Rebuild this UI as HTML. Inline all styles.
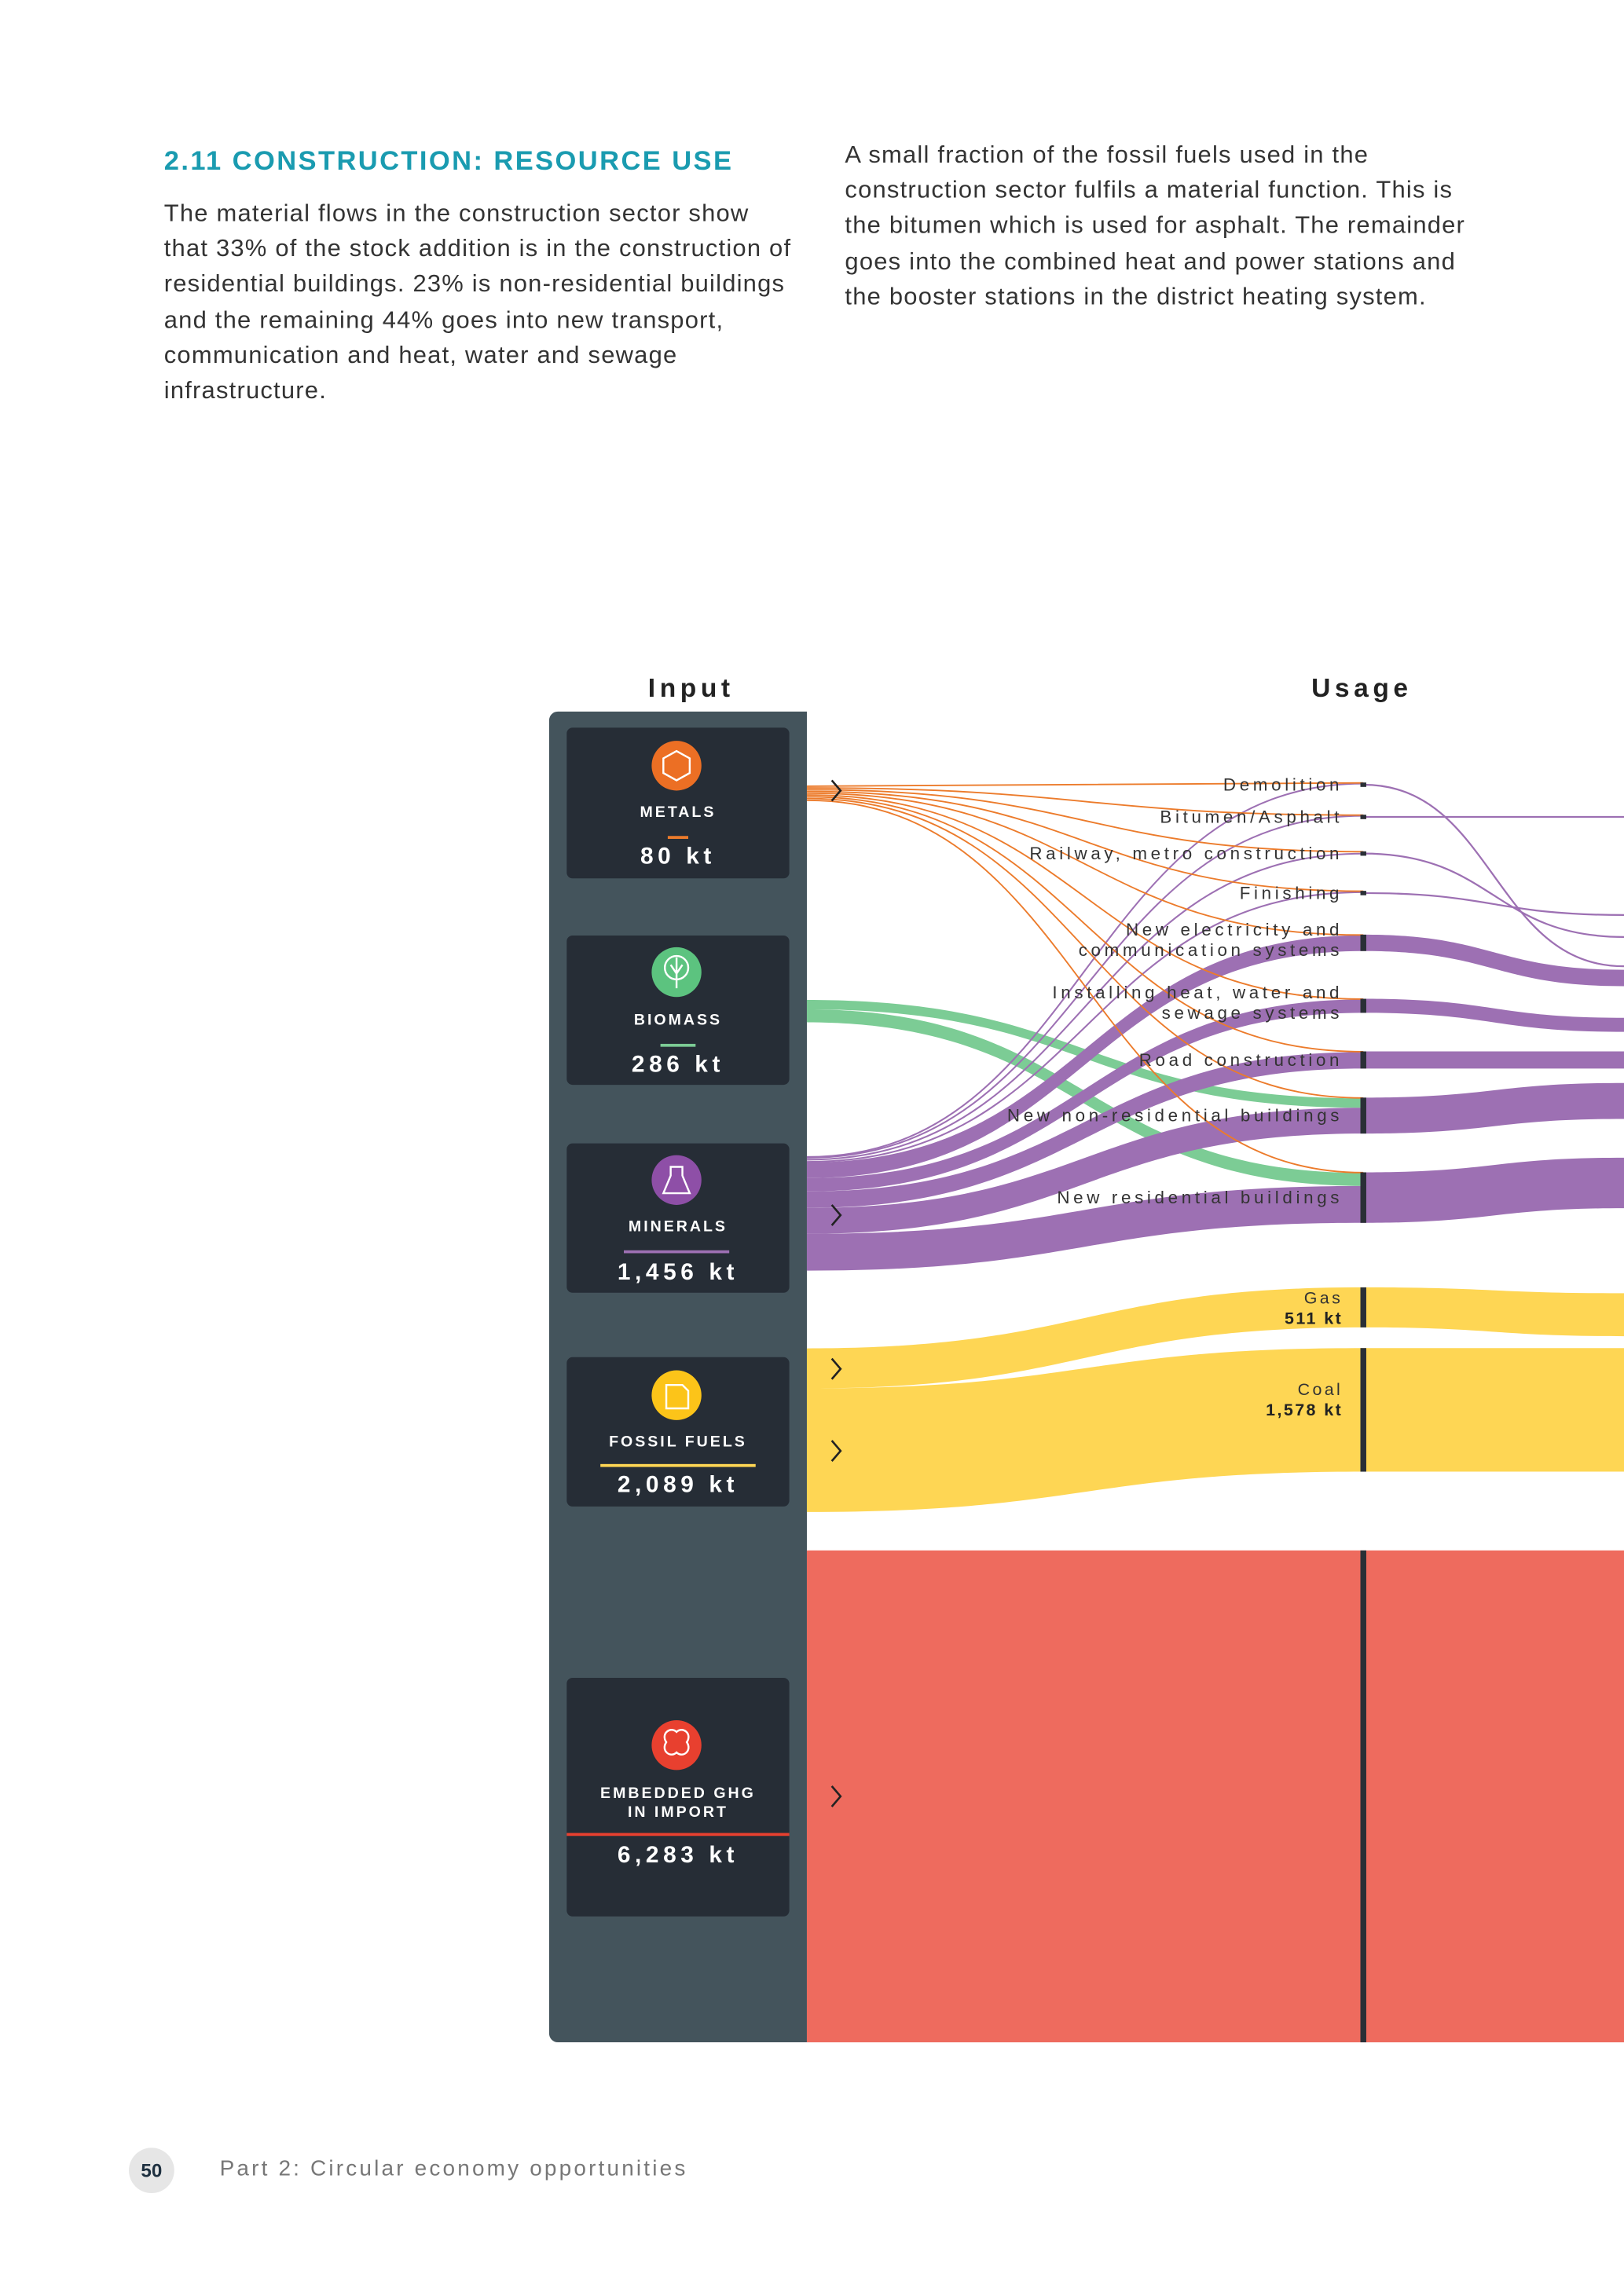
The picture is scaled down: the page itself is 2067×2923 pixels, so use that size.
<!DOCTYPE html>
<html><head><meta charset="utf-8">
<style>
html,body{margin:0;padding:0;background:#fff;}
body{width:2067px;height:2923px;overflow:hidden;position:relative;}
#wrap{position:absolute;left:0;top:0;width:1109px;height:1568px;transform:scale(1.86384);transform-origin:0 0;font-family:"Liberation Sans",sans-serif;}
.h{position:absolute;left:112px;top:99px;font-size:18.5px;font-weight:bold;color:#1a9bb0;letter-spacing:1.3px;white-space:nowrap;}
.p{position:absolute;font-size:16.6px;line-height:24.2px;color:#333;white-space:nowrap;letter-spacing:0.65px;}
.card{position:absolute;left:387px;width:152px;background:#262d36;border-radius:4px;}
.lab{position:absolute;left:0;width:152px;text-align:center;color:#fff;font-size:10.5px;font-weight:bold;letter-spacing:1.6px;}
.val{position:absolute;left:0;width:152px;text-align:center;color:#fff;font-size:16px;font-weight:bold;letter-spacing:3px;}
.ln{position:absolute;height:2px;}
</style></head><body>
<div id="wrap">
<div class="h">2.11 CONSTRUCTION: RESOURCE USE</div>
<div class="p" style="left:112px;top:134px">The material flows in the construction sector show<br>that 33% of the stock addition is in the construction of<br>residential buildings. 23% is non-residential buildings<br>and the remaining 44% goes into new transport,<br>communication and heat, water and sewage<br>infrastructure.</div>
<div class="p" style="left:577px;top:94px">A small fraction of the fossil fuels used in the<br>construction sector fulfils a material function. This is<br>the bitumen which is used for asphalt. The remainder<br>goes into the combined heat and power stations and<br>the booster stations in the district heating system.</div>

<div style="position:absolute;left:375px;top:486px;width:176px;height:909px;background:#44545c;border-radius:6px 0 0 6px;"></div>

<div class="card" style="top:497px;height:103px">
<div class="lab" style="top:52px">METALS</div><div class="ln" style="left:69px;width:14px;top:74px;background:#ec7b2b"></div><div class="val" style="top:80px">80 kt</div></div>
<div class="card" style="top:639px;height:102px">
<div class="lab" style="top:52px">BIOMASS</div><div class="ln" style="left:64px;width:24px;top:74px;background:#7ccc95"></div><div class="val" style="top:80px">286 kt</div></div>
<div class="card" style="top:781px;height:102px">
<div class="lab" style="top:51px">MINERALS</div><div class="ln" style="left:39px;width:72px;top:73px;background:#9d70b3"></div><div class="val" style="top:80px">1,456 kt</div></div>
<div class="card" style="top:927px;height:102px">
<div class="lab" style="top:52px">FOSSIL FUELS</div><div class="ln" style="left:23px;width:106px;top:73px;background:#fed654"></div><div class="val" style="top:79px">2,089 kt</div></div>
<div class="card" style="top:1146px;height:163px">
<div class="lab" style="top:73px;line-height:12.5px">EMBEDDED GHG<br>IN IMPORT</div><div class="ln" style="left:0;width:152px;top:106px;background:#e8402f"></div><div class="val" style="top:113px">6,283 kt</div></div>

<div style="position:absolute;left:88px;top:1467px;width:31px;height:31px;border-radius:50%;background:#e6e6e6;text-align:center;line-height:31px;font-size:13px;font-weight:bold;color:#1e3040">50</div>
<div style="position:absolute;left:150px;top:1473px;font-size:15px;letter-spacing:1.7px;color:#777;white-space:nowrap">Part 2: Circular economy opportunities</div>

<svg id="chart" width="1109" height="1568" style="position:absolute;left:0;top:0"></svg>
</div>
<script>
const usageNodes=["Demolition","Bitumen/Asphalt","Railway, metro construction","Finishing","New electricity and|communication systems","Installing heat, water and|sewage systems","Road construction","New non-residential buildings","New residential buildings"];
const metalsFlows=[9,9,9,9,9,9,9,9,8];
const biomassFlows=[0,0,0,0,0,0,0,120,166];
const mineralsFlows=[10,10,40,15,200,170,210,330,471];
const fuelNodes=["Gas","Coal"];
const fuelValues=[511,1578];
const fuelLabels=["511 kt","1,578 kt"];
const ghgValue=6283;
// layout (not data)
const K=0.0535, X0=551, XN=931, XR=1109;
const nodeCenters=[536,558,583,610,644,687,724,762,818];
const outY=[660,558,640,625,668,700,724,752,808];
const fuelCenters=[893,963];
const fuelLabelOffsets=[11,32];
const S=document.getElementById('chart');
const NS='http://www.w3.org/2000/svg';
function mk(t,a){const e=document.createElementNS(NS,t);for(const k in a)e.setAttribute(k,a[k]);S.appendChild(e);return e;}
function curve(x0,y0,x1,y1){const m=(x0+x1)/2;return `C${m},${y0} ${m},${y1} ${x1},${y1}`;}
function band(x0,t0,b0,x1,t1,b1,fill,op,name){
  const e=mk('path',{d:`M${x0},${t0}${curve(x0,t0,x1,t1)}L${x1},${b1}${curve(x1,b1,x0,b0)}Z`,fill:fill,'fill-opacity':op});
  
  
}
function line(x0,y0,x1,y1,c,w,name){
  const e=mk('path',{d:`M${x0},${y0}${curve(x0,y0,x1,y1)}`,stroke:c,'stroke-width':w,fill:'none'});
  
  
}
const totals=usageNodes.map((n,i)=>metalsFlows[i]+biomassFlows[i]+mineralsFlows[i]);
const hs=totals.map(t=>Math.max(3,t*K));
const tops=hs.map((h,i)=>nodeCenters[i]-h/2);
const cur=tops.slice();
usageNodes.forEach((n,i)=>{const h=hs[i];
  if(h<4) line(XN,nodeCenters[i],XR,outY[i],'#9d70b3',1.2,'outflow-'+i);
  else band(XN,tops[i],tops[i]+h,XR,outY[i]-h/2,outY[i]+h/2,'#9d70b3',1,'outflow-'+i);});
const metT=metalsFlows.map((v,i)=>{const t=cur[i];cur[i]+=v*K;return t;});
const bioT=biomassFlows.map((v,i)=>{const t=cur[i];cur[i]+=v*K;return t;});
const minT=mineralsFlows.map((v,i)=>{const t=cur[i];cur[i]+=v*K;return t;});
let sy=683;
usageNodes.forEach((n,i)=>{const v=biomassFlows[i];if(!v)return;const w=v*K;
  band(X0,sy,sy+w,XN,bioT[i],bioT[i]+w,'#7ccc95',1,'biomass-flow-'+i);sy+=w;});
let my=790;
usageNodes.forEach((n,i)=>{const w=mineralsFlows[i]*K;
  if(w<2.5) line(X0,my+w/2,XN,minT[i]+w/2,'#9d70b3',1.1,'minerals-flow-'+i);
  else band(X0,my,my+w,XN,minT[i],minT[i]+w,'#9d70b3',1,'minerals-flow-'+i);
  my+=w;});
let ty=537;
metalsFlows.forEach((v,i)=>{line(X0,ty,XN,metT[i]+v*K/2,'#ec7b2b',1,'metals-flow-'+i);ty+=1.2;});
let fy=921;
fuelNodes.forEach((n,i)=>{const h=fuelValues[i]*K;const t=fuelCenters[i]-h/2;
  band(X0,fy,fy+h,XN,t,t+h,'#fed654',1,'fuel-flow-'+n.toLowerCase());fy+=h;
  band(XN,t,t+h,XR,t+(i==0?4:0),t+h+(i==0?6:0),'#fed654',1,'fuel-out-'+n.toLowerCase());
  const b=mk('rect',{x:XN-2,y:t,width:4,height:h,fill:'#2a2f36'});
  
  
  const o=fuelLabelOffsets[i];
  const l1=mk('text',{x:917,y:t+o,'text-anchor':'end','font-size':11.5,'letter-spacing':1.8,fill:'#333','font-family':'Liberation Sans'});l1.textContent=n;
  
  
  const l2=mk('text',{x:917,y:t+o+14,'text-anchor':'end','font-size':11.5,'font-weight':'bold','letter-spacing':1.3,fill:'#222','font-family':'Liberation Sans'});l2.textContent=fuelLabels[i];
  
  
});
const gh=ghgValue*K;
const r=mk('rect',{x:X0,y:1059,width:XR-X0,height:Math.min(gh,1395-1059),fill:'#ee6b5e'});


const gb=mk('rect',{x:XN-2,y:1059,width:4,height:Math.min(gh,1395-1059),fill:'#2a2f36'});


usageNodes.forEach((n,i)=>{
  const b=mk('rect',{x:XN-2,y:tops[i],width:4,height:hs[i],fill:'#2a2f36'});
  
  
  const parts=n.split('|');
  parts.forEach((p,j)=>{
    const y=parts.length==1?nodeCenters[i]+4:nodeCenters[i]-5+j*14;
    const t=mk('text',{x:917,y:y,'text-anchor':'end','font-size':12,'letter-spacing':2.5,fill:'#333','font-family':'Liberation Sans'});
    t.textContent=p;
    
    
  });
});
[['Input',472],['Usage',930]].forEach(([s,x])=>{
  const t=mk('text',{x:x,y:476,'text-anchor':'middle','font-size':18,'font-weight':'bold','letter-spacing':3,fill:'#222','font-family':'Liberation Sans'});
  t.textContent=s;
  
  
});
[540,830,935,991,1227].forEach(y=>{
  const c=mk('path',{d:`M568,${y-7}L574,${y}L568,${y+7}`,stroke:'#222','stroke-width':1.4,fill:'none'});
  
  
});
const icons=[[523,'#ec6f24'],[664,'#5cc37f'],[806,'#8e4fa7'],[953,'#fcc419'],[1192,'#e8402f']];
icons.forEach(([y,c],i)=>{
  const e=mk('circle',{cx:462,cy:y,r:17,fill:c});
  
  
});
const st={stroke:'#fff','stroke-width':1.3,fill:'none'};
mk('path',Object.assign({d:'M462,513L471,518L471,528L462,533L453,528L453,518Z'},st));
mk('circle',Object.assign({cx:462,cy:661,r:8},st));
mk('path',Object.assign({d:'M462,654L462,675M458,659L462,665L466,659'},st));
mk('path',Object.assign({d:'M458,797L466,797L466,803L471,815L453,815L458,803Z'},st));
mk('path',Object.assign({d:'M455,946L466,946L470,950L470,962L455,962Z'},st));
mk('path',Object.assign({d:'M455,1190C451,1184 458,1179 462,1183C466,1179 473,1184 469,1190C473,1196 466,1201 462,1197C458,1201 451,1196 455,1190Z'},st));
</script>
</body></html>
